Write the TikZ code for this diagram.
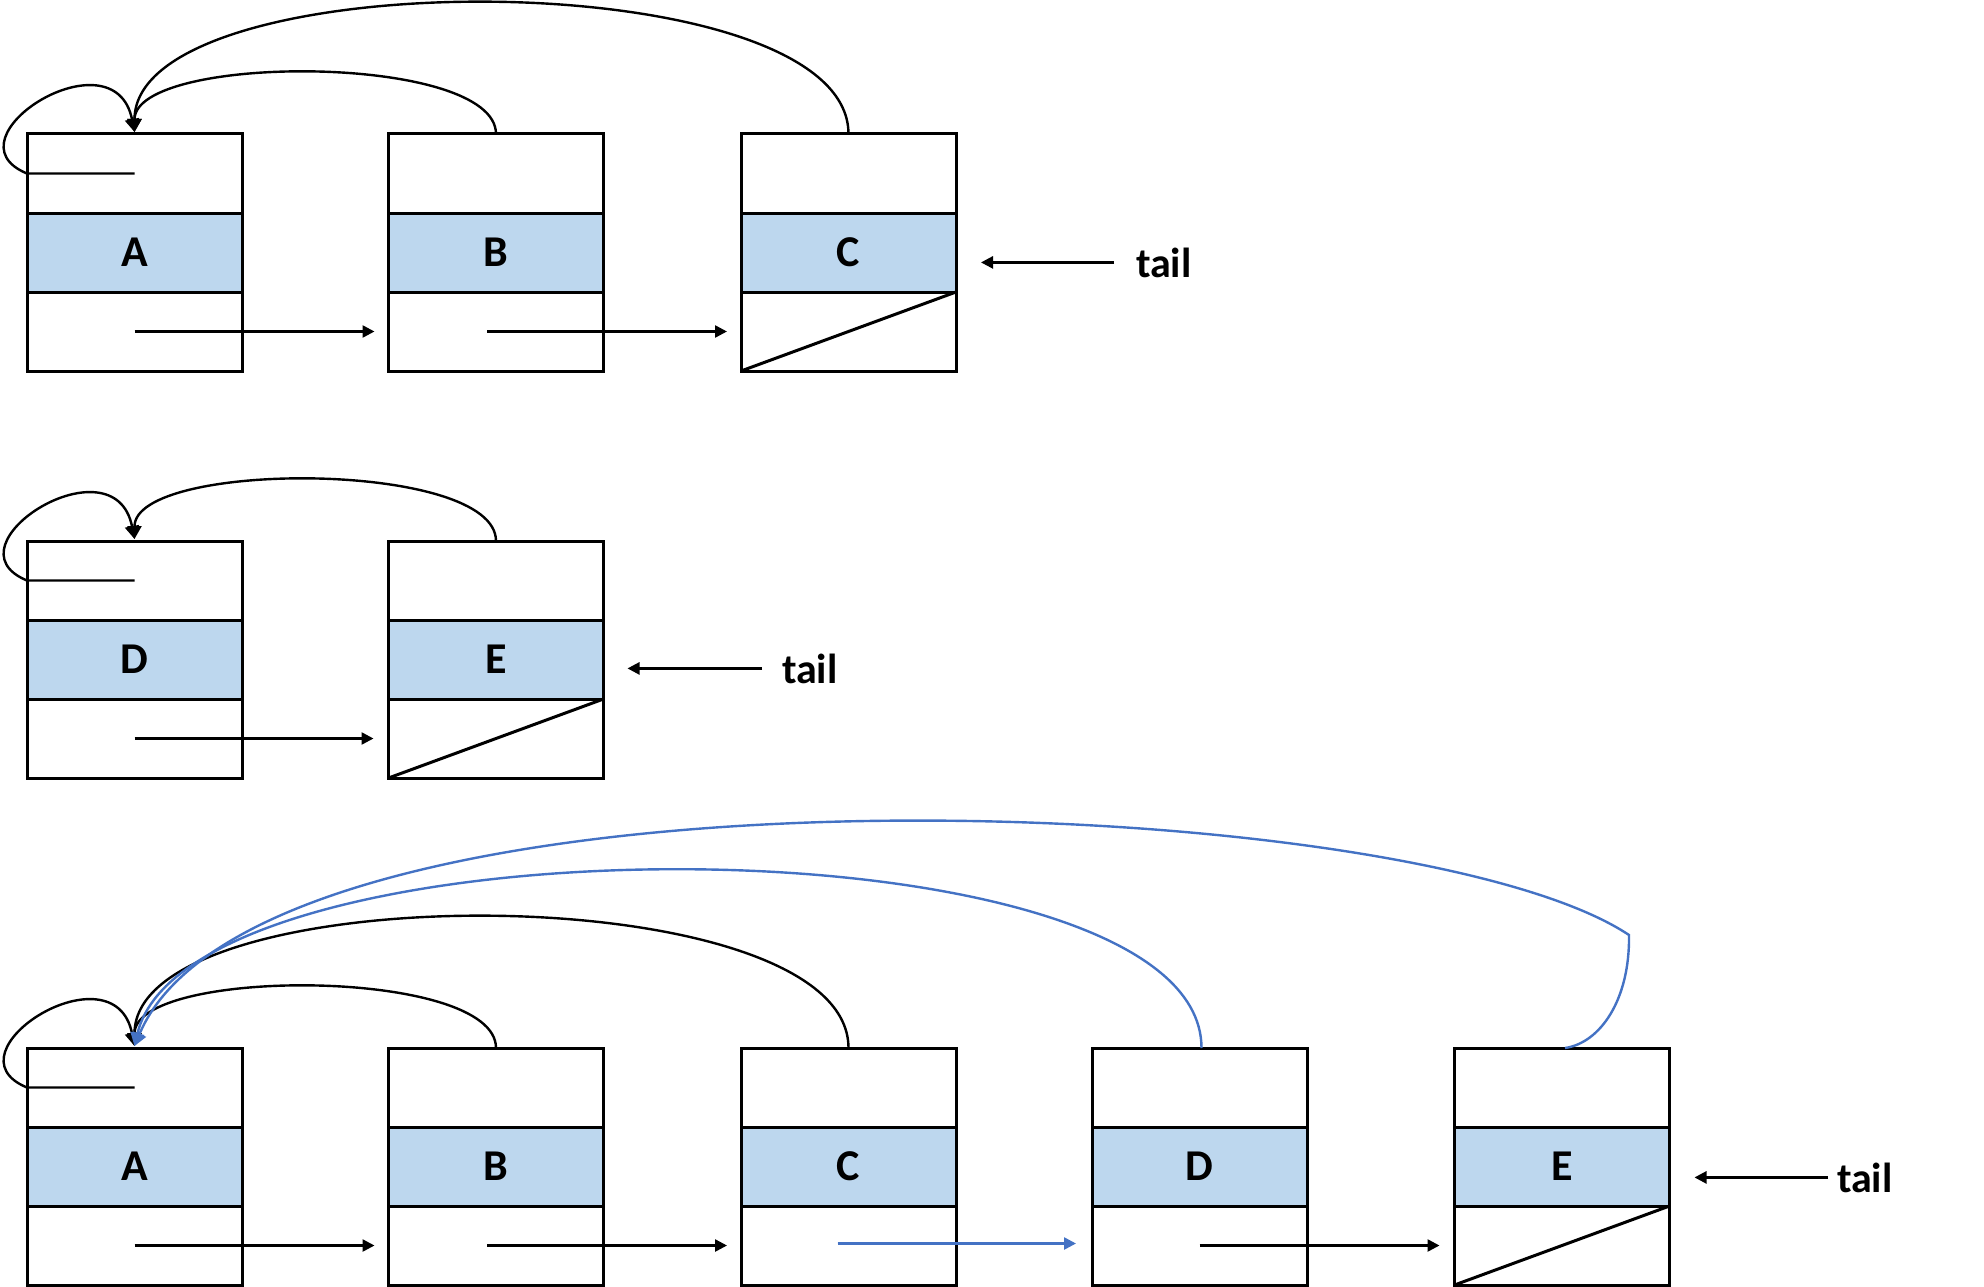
\documentclass[tikz,border=0pt]{standalone}
\usepackage{fontspec}
\setmainfont{Carlito}
\usetikzlibrary{arrows.meta}
\definecolor{cellblue}{HTML}{BDD7EE}
\definecolor{linkblue}{HTML}{4472C4}
\newcommand\mkbox[4]{%
  \node[cellbox] (#1t) at (#2,#3+39.5) {};
  \node[datacell] (#1m) at (#2,#3+118.5) {#4};
  \node[cellbox] (#1b) at (#2,#3+197.5) {};
  \coordinate (#1tip) at ([yshift=2pt]#1t.north);
}
\tikzset{
  cellbox/.style={draw, line width=3pt, minimum width=215pt, minimum height=79pt, inner sep=0pt, outer sep=0pt},
  datacell/.style={cellbox, fill=cellblue, font=\fontsize{44}{46}\selectfont\bfseries},
  tailtxt/.style={inner sep=0pt, outer sep=0pt, font=\fontsize{42}{44}\selectfont\bfseries},
  ptr/.style={line width=2.5pt, -{Triangle[length=12pt,width=12pt]}},
  link/.style={line width=2.4pt, -{Triangle[length=13pt,width=14pt]}},
  bluelink/.style={link, draw=linkblue},
  nullbar/.style={line width=3pt},
  selfloop/.style={link},
}
\begin{document}
\begin{tikzpicture}[x=1pt,y=-1pt]
\fill[white] (0,0) rectangle (1984,1287);
\useasboundingbox (0,0) rectangle (1984,1287);

% ---------- row 1 ----------
\mkbox{A1}{134.5}{134}{A}
\mkbox{B1}{496}{134}{B}
\mkbox{C1}{848.5}{134}{C}
\draw[nullbar] (C1b.south west) -- (C1b.north east);
\draw[ptr] (A1b.center) -- ([xshift=-14pt]B1b.west);
\draw[ptr] ([xshift=-9pt]B1b.center) -- ([xshift=-14pt]C1b.west);
\draw[selfloop] (A1t.center) -- (A1t.west) .. controls +(-85,-35) and +(-20,-102) .. (A1tip);
\draw[link] (B1t.north) .. controls +(0,-81) and +(0,-79) .. (A1tip);
\draw[link] (C1t.north) .. controls +(0,-174) and +(0,-172) .. (A1tip);
\node[tailtxt, anchor=base west] (T1) at (1136,277) {tail};
\coordinate (T1s) at ([xshift=-22pt]T1.west);
\coordinate (C1r) at ([xshift=25pt]C1m.east);
\draw[ptr] (T1s) -- (T1s -| C1r);

% ---------- row 2 ----------
\mkbox{D2}{134.5}{541}{D}
\mkbox{E2}{496}{541}{E}
\draw[nullbar] (E2b.south west) -- (E2b.north east);
\draw[ptr] (D2b.center) -- ([xshift=-15pt]E2b.west);
\draw[selfloop] (D2t.center) -- (D2t.west) .. controls +(-85,-35) and +(-20,-102) .. (D2tip);
\draw[link] (E2t.north) .. controls +(0,-81) and +(0,-79) .. (D2tip);
\node[tailtxt, anchor=base west] (T2) at (782,683) {tail};
\coordinate (T2s) at ([xshift=-20pt]T2.west);
\coordinate (E2r) at ([xshift=24pt]E2m.east);
\draw[ptr] (T2s) -- (T2s -| E2r);

% ---------- row 3 ----------
\mkbox{A3}{134.5}{1048}{A}
\mkbox{B3}{496}{1048}{B}
\mkbox{C3}{848.5}{1048}{C}
\mkbox{D3}{1199.5}{1048}{D}
\mkbox{E3}{1562}{1048}{E}
\draw[nullbar] (E3b.south west) -- (E3b.north east);
\draw[ptr] (A3b.center) -- ([xshift=-14pt]B3b.west);
\draw[ptr] ([xshift=-9pt]B3b.center) -- ([xshift=-14pt]C3b.west);
\draw[ptr, draw=linkblue, fill=linkblue] ([xshift=-11pt,yshift=2pt]C3b.center) -- ([xshift=-16pt,yshift=2pt]D3b.west);
\draw[ptr] (D3b.center) -- ([xshift=-15pt]E3b.west);
\draw[selfloop] (A3t.center) -- (A3t.west) .. controls +(-85,-35) and +(-20,-102) .. (A3tip);
\draw[link] (B3t.north) .. controls +(0,-81) and +(0,-79) .. (A3tip);
\draw[link] (C3t.north) .. controls +(0,-174) and +(0,-172) .. (A3tip);
\draw[bluelink] ([xshift=2pt]D3t.north) .. controls +(0,-236) and +(55,-234) .. (A3tip);
\coordinate (Ebend) at (1629,935);
\draw[bluelink] ([xshift=3pt]E3t.north) .. controls +(35,-5) and +(1,65) .. (Ebend)
   .. controls +(-225,-150) and +(124,-297) .. (A3tip);
\node[tailtxt, anchor=base west] (T3) at (1837,1192) {tail};
\coordinate (T3s) at ([xshift=-9pt]T3.west);
\coordinate (E3r) at ([xshift=25pt]E3m.east);
\draw[ptr] (T3s) -- (T3s -| E3r);
\end{tikzpicture}
\end{document}
